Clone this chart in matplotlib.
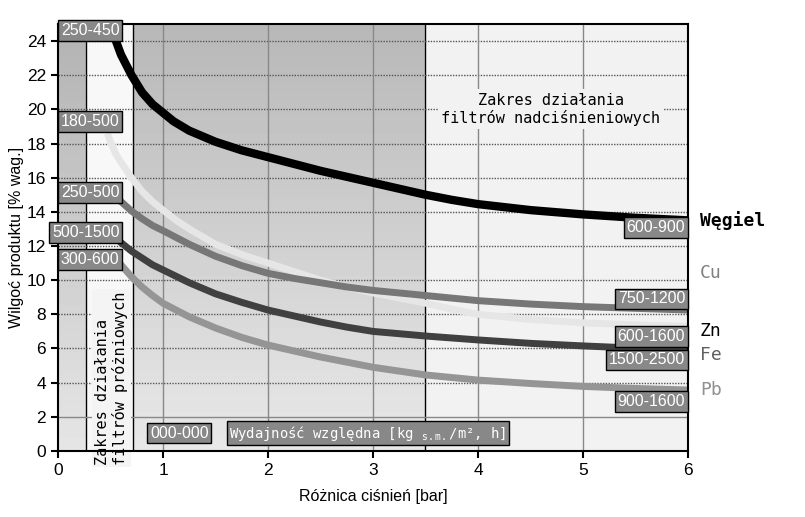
import numpy as np
import matplotlib
matplotlib.use("Agg")
import matplotlib.pyplot as plt

# curves: pressure difference [bar] -> product moisture [% wag.]
x_wegiel = [0.51, 0.54, 0.6, 0.65, 0.7, 0.8, 0.9, 1.0, 1.1, 1.25, 1.5, 1.75, 2.0, 2.25, 2.5, 2.75,
            3.0, 3.25, 3.5, 3.75, 4.0, 4.5, 5.0, 5.5, 6.0]
y_wegiel = [25.0, 24.2, 23.2, 22.6, 22.0, 21.0, 20.3, 19.8, 19.3, 18.75, 18.1, 17.6, 17.2, 16.8, 16.4, 16.05,
            15.7, 15.35, 15.0, 14.7, 14.45, 14.1, 13.85, 13.65, 13.5]

x_cu = [0.47, 0.5, 0.55, 0.6, 0.7, 0.8, 0.9, 1.0, 1.125, 1.25, 1.5, 1.75, 2.0, 2.25, 2.5, 2.75,
        3.0, 3.25, 3.5, 3.75, 4.0, 4.5, 5.0, 5.5, 6.0]
y_cu = [18.6, 18.1, 17.4, 16.9, 16.0, 15.2, 14.6, 14.1, 13.5, 13.0, 12.1, 11.5, 11.0, 10.5, 10.0, 9.6,
        9.25, 8.95, 8.65, 8.3, 8.0, 7.7, 7.5, 7.38, 7.3]

x_mid = [0.55, 0.6, 0.7, 0.8, 0.9, 1.0, 1.25, 1.5, 1.75, 2.0, 2.25, 2.5, 2.75, 3.0, 3.5, 4.0, 4.5, 5.0, 5.5, 6.0]
y_mid = [15.0, 14.6, 14.05, 13.6, 13.2, 12.9, 12.1, 11.4, 10.85, 10.4, 10.1, 9.85, 9.6, 9.4, 9.1, 8.8, 8.6, 8.45, 8.35, 8.25]

x_dark = [0.55, 0.6, 0.7, 0.8, 0.9, 1.0, 1.25, 1.5, 1.75, 2.0, 2.25, 2.5, 2.75, 3.0, 3.5, 4.0, 4.5, 5.0, 5.5, 6.0]
y_dark = [12.5, 12.2, 11.7, 11.3, 10.9, 10.6, 9.85, 9.2, 8.7, 8.25, 7.9, 7.55, 7.25, 7.0, 6.73, 6.5, 6.3, 6.15, 6.02, 5.9]

x_pb = [0.55, 0.6, 0.7, 0.8, 0.9, 1.0, 1.25, 1.5, 1.75, 2.0, 2.25, 2.5, 2.75, 3.0, 3.5, 4.0, 4.5, 5.0, 5.5, 6.0]
y_pb = [11.2, 10.9, 10.2, 9.6, 9.1, 8.65, 7.85, 7.2, 6.65, 6.2, 5.85, 5.5, 5.2, 4.9, 4.45, 4.15, 3.95, 3.78, 3.66, 3.57]

left_labels = ["250-450", "180-500", "250-500", "500-1500", "300-600"]
left_label_y = [24.6, 19.3, 15.15, 12.8, 11.2]
right_labels = ["600-900", "750-1200", "600-1600", "1500-2500", "900-1600"]
right_label_y = [13.1, 8.9, 6.7, 5.33, 2.9]
materials = ["Węgiel", "Cu", "Zn", "Fe", "Pb"]
material_y = [13.5, 10.4, 7.0, 5.6, 3.57]
material_colors = ["black", "#808080", "black", "#606060", "#909090"]

narrow = ["Liberation Sans", "DejaVu Sans"]
mono = ["DejaVu Sans Mono"]

fig = plt.figure(figsize=(8.05, 5.17), dpi=100)
ax = fig.add_axes([0.072, 0.1277, 0.783, 0.826])
ax.set_xlim(0, 6)
ax.set_ylim(0, 25)

# background zones
grad = np.linspace(0, 1, 100).reshape(-1, 1)
ax.imshow(0.70 + 0.20 * grad, cmap="gray", vmin=0, vmax=1, aspect="auto",
          extent=(0, 0.27, 0, 25), origin="upper", zorder=0)
ax.axvspan(0.27, 0.71, color="#f8f8f8", zorder=0)
ax.imshow(0.72 + 0.19 * grad, cmap="gray", vmin=0, vmax=1, aspect="auto",
          extent=(0.71, 3.49, 0, 25), origin="upper", zorder=0)
ax.axvspan(3.49, 6, color="#f2f2f2", zorder=0)
for xv in [0.27, 0.71, 3.49]:
    ax.axvline(xv, color="black", lw=1, zorder=1)

# grid
for yv in range(4, 25, 2):
    ax.axhline(yv, color="#555555", lw=1, ls=(0, (1, 1)), zorder=1)
ax.axhline(2, color="#888888", lw=1, zorder=1)
for xv in range(1, 6):
    ax.axvline(xv, color="#888888", lw=1, zorder=1)

# curves
ax.plot(x_cu, y_cu, color="#e6e6e6", lw=5, solid_capstyle="butt", zorder=3)
ax.plot(x_mid, y_mid, color="#777777", lw=5, solid_capstyle="butt", zorder=4)
ax.plot(x_dark, y_dark, color="#404040", lw=5, solid_capstyle="butt", zorder=4)
ax.plot(x_pb, y_pb, color="#959595", lw=5, solid_capstyle="butt", zorder=4)
ax.plot(x_wegiel, y_wegiel, color="black", lw=6, solid_capstyle="butt", zorder=5)

box = dict(boxstyle="square,pad=0.18", facecolor="#888888", edgecolor="black", lw=1)
for lab, yv in zip(left_labels, left_label_y):
    ax.text(0.585, yv, lab, ha="right", va="center", color="white", fontsize=11.5,
            family=narrow, bbox=box, zorder=8, clip_on=False)
for lab, yv in zip(right_labels, right_label_y):
    ax.text(5.97, yv, lab, ha="right", va="center", color="white", fontsize=11.5,
            family=narrow, bbox=box, zorder=8)

ax.text(0.875, 1.05, "000-000", ha="left", va="center", color="white", fontsize=11.5,
        family=narrow, bbox=box, zorder=8)
ax.text(1.63, 1.05, "Wydajność względna [kg $_{\\mathtt{s.m.}}$/m², h]", ha="left",
        va="center", color="white", fontsize=10, family=mono, bbox=box, zorder=8)

for name, yv, c in zip(materials, material_y, material_colors):
    ax.text(6.11, yv, name, ha="left", va="center", color=c, fontsize=13,
            family=mono, fontweight="bold" if name == "Węgiel" else "normal", clip_on=False)

ax.text(4.69, 20.0, "Zakres działania\nfiltrów nadciśnieniowych", ha="center", va="center",
        fontsize=11, family=mono, multialignment="center", linespacing=1.2,
        bbox=dict(boxstyle="square,pad=0.2", facecolor="#f2f2f2", edgecolor="none"), zorder=2)
ax.text(0.51, -0.8, "Zakres działania\nfiltrów próżniowych", ha="center", va="bottom",
        rotation=90, fontsize=11, family=mono, multialignment="left", linespacing=1.2,
        bbox=dict(boxstyle="square,pad=0.15", facecolor="#f4f4f4", edgecolor="none"),
        zorder=2, clip_on=False)

ax.set_xticks(range(0, 7))
ax.set_yticks(range(0, 25, 2))
ax.tick_params(direction="out", length=5, width=1.5, labelsize=12.5)
for lab in ax.get_xticklabels() + ax.get_yticklabels():
    lab.set_family(narrow)
for s in ax.spines.values():
    s.set_linewidth(1.5)
    s.set_zorder(7)

ax.set_xlabel("Różnica ciśnień [bar]", fontsize=11.5, family=narrow, labelpad=8)
ax.set_ylabel("Wilgoć produktu [% wag.]", fontsize=11.5, family=narrow, labelpad=2)

fig.savefig("out.png", dpi=100)
